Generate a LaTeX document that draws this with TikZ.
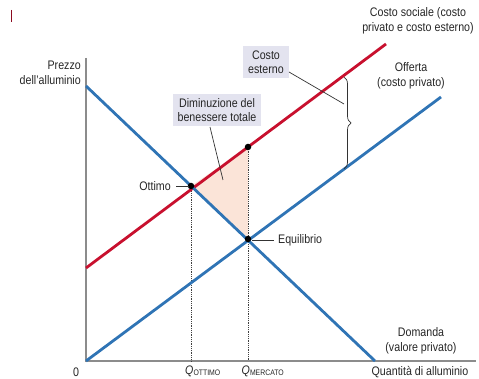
\documentclass[tikz,border=0pt]{standalone}
\usepackage{fontspec}
\setmainfont[FakeStretch=0.86]{Liberation Sans}
\usetikzlibrary{decorations.pathreplacing}
\definecolor{socred}{HTML}{C8102E}
\definecolor{curveblue}{HTML}{2F74B5}
\definecolor{axisgray}{HTML}{8C8C8C}
\definecolor{boxfill}{HTML}{E3E3EF}
\definecolor{lossfill}{HTML}{FBE4D8}
\begin{document}
\begin{tikzpicture}[x=1pt,y=-1pt,
  lbl/.style={font=\fontsize{12.4}{14.5}\selectfont, text=black!85, inner sep=0pt},
  callout/.style={lbl, fill=boxfill, align=center, inner xsep=5pt, inner ysep=4pt},
  curve/.style={line width=2.8pt},
  dot/.style={circle, fill=black, inner sep=0pt, minimum size=6.5pt},
  guide/.style={densely dotted, line width=0.8pt, black!75},
  leader/.style={line width=0.7pt, black!80}]
\useasboundingbox (0,0) rectangle (479,379);
% stray tick
\draw[socred!70!black, line width=1pt] (11,10) -- (11,22);
% axes
\coordinate (O) at (86,361);
\coordinate (ytop) at (86,58);
\coordinate (xend) at (476,361);
\draw[axisgray, line width=1.4pt] (ytop) -- (O) -- (xend);
% key points
\coordinate (opt) at (191,186);
\coordinate (eq) at (248,239);
\coordinate (redq) at (248,147);
\coordinate (qopt) at (191,361);
\coordinate (qmer) at (248,361);
% loss triangle
\fill[lossfill] (opt) -- (redq) -- (eq) -- cycle;
% guides
\draw[guide] (opt) -- (qopt);
\draw[guide] (redq) -- (qmer);
% curves
\coordinate (rs) at (86,268);
\coordinate (re) at (386,44);
\coordinate (ss) at (86,361);
\coordinate (se) at (441,97);
\coordinate (ds) at (86,86);
\coordinate (de) at (375,361);
\draw[curve, socred] (rs) -- (re);
\draw[curve, curveblue] (ss) -- (se);
\draw[curve, curveblue] (ds) -- (de);
% dots
\node[dot] (optdot) at (opt) {};
\node[dot] (eqdot) at (eq) {};
\node[dot] (reddot) at (redq) {};
% brace
\coordinate (bt) at (344,77);
\coordinate (bb) at (344,169);
\draw[leader, decorate, decoration={brace, amplitude=7pt}] (bt) -- (bb);
% labels
\node[lbl, align=right, anchor=east] (py) at (81,73) {Prezzo\\dell’alluminio};
\node[lbl, align=center] (soc) at (418,21) {Costo sociale (costo\\privato e costo esterno)};
\node[lbl, align=center] (off) at (411,76) {Offerta\\(costo privato)};
\node[lbl, align=center] (dom) at (421,341) {Domanda\\(valore privato)};
\node[lbl] (zero) at (76,372) {0};
\node[lbl] (lqo) at (203,371) {\textit{Q}\textsubscript{\footnotesize OTTIMO}};
\node[lbl] (lqm) at (263,371) {\textit{Q}\textsubscript{\footnotesize MERCATO}};
\node[lbl] (qx) at (420,372) {Quantità di alluminio};
\node[lbl, anchor=east] (lopt) at (171,186) {Ottimo};
\node[lbl, anchor=west] (leq) at (278,240) {Equilibrio};
\coordinate (loptl) at (176,186);
\coordinate (loptr) at (189,186);
\draw[leader] (loptl) -- (loptr);
\coordinate (leql) at (252,240);
\coordinate (leqr) at (274,240);
\draw[leader] (leql) -- (leqr);
% callouts
\node[callout] (cest) at (266,62) {Costo\\esterno};
\coordinate (cestend) at (344,104);
\draw[leader] (cest.east) ++(0,10) coordinate (cestst) -- (cestend);
\node[callout] (dim) at (217,110) {Diminuzione del\\benessere totale};
\coordinate (dimst) at (210,127);
\coordinate (dimend) at (223,180);
\draw[leader] (dimst) -- (dimend);
\end{tikzpicture}
\end{document}
